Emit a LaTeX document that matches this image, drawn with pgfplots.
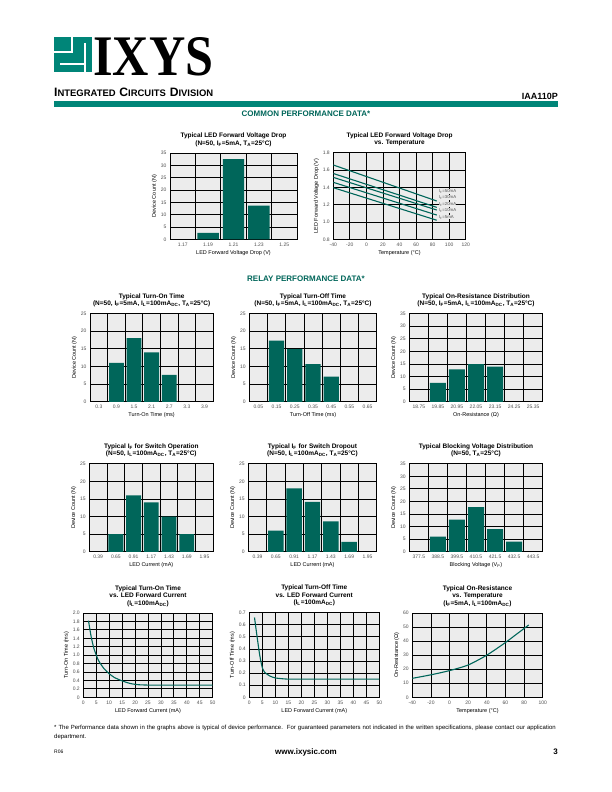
\documentclass[border=0pt]{standalone}
\usepackage{fontspec}
\setmainfont{Liberation Sans}
\newfontfamily\lserif{Liberation Serif}
\usepackage{graphicx}
\usepackage{pgfplots}
\pgfplotsset{compat=1.18}
\definecolor{barc}{RGB}{0,102,90}
\definecolor{hteal}{RGB}{0,133,120}
\definecolor{bgc}{RGB}{236,236,236}
\definecolor{tickc}{RGB}{80,80,80}
\pgfplotsset{
  dsbase/.style={
    scale only axis,
    anchor=north west,
    axis background/.style={fill=bgc},
    axis line style={black, line width=0.9pt},
    major tick length=0pt, minor tick length=0pt,
    tick style={draw=none},
    ticklabel style={font=\fontsize{5}{6}\selectfont, text=tickc},
    label style={font=\fontsize{5.5}{6.5}\selectfont},
    xlabel style={yshift=3pt},
    ylabel style={yshift=-3pt},
    title style={font=\bfseries\fontsize{6.5}{7.5}\selectfont, align=center, yshift=-3pt},
    grid style={black, line width=0.8pt},
    /pgf/number format/assume math mode=true,
  },
  hist/.style={dsbase, ybar, bar width=0.84, ymin=0,
     xminorgrids, ymajorgrids, xmajorgrids=false,
     ylabel={Device Count (N)}},
  seven/.style={xmin=-0.5, xmax=6.5, xtick={0,1,2,3,4,5,6}, minor xtick={0.5,1.5,2.5,3.5,4.5,5.5}},
  curve/.style={barc, line width=1.1pt, smooth, tension=0.4},
}
\newcommand{\cond}{(N=50, I\textsubscript{F}=5mA, I\textsubscript{L}=100mA\textsubscript{DC}, T\textsubscript{A}=25°C)}
\begin{document}
\begin{tikzpicture}[x=1pt,y=1pt]
\useasboundingbox (0,0) rectangle (612,792);
\fill[white] (0,0) rectangle (612,792);
% ---------- header ----------
\fill[hteal] (54,720) rectangle (92,755);
\fill[white] (54,739) rectangle (73,741);
\fill[white] (71,741) rectangle (73,755);
\fill[white] (60,727) rectangle (84,729);
\fill[white] (84,720) rectangle (86,749);
\node[anchor=north west, inner sep=0pt] at (93,755) {\resizebox{120pt}{38pt}{\lserif\bfseries IXYS}};
\node[anchor=west, inner sep=0pt] at (54,699.5) {\resizebox{159pt}{!}{\bfseries{\fontsize{9}{9}\selectfont I}{\fontsize{7}{7}\selectfont NTEGRATED} {\fontsize{9}{9}\selectfont C}{\fontsize{7}{7}\selectfont IRCUITS} {\fontsize{9}{9}\selectfont D}{\fontsize{7}{7}\selectfont IVISION}}};
\node[anchor=south east, inner sep=0pt, font=\bfseries\fontsize{9}{9}\selectfont] at (558,692.5) {IAA110P};
\fill[hteal] (54,684.5) rectangle (558,691);
\node[font=\bfseries\fontsize{8}{8}\selectfont, text=barc] at (306,678) {COMMON PERFORMANCE DATA*};
\node[font=\bfseries\fontsize{8}{8}\selectfont, text=barc] at (306,513) {RELAY PERFORMANCE DATA*};
% ---------- footer ----------
\node[anchor=north west, inner sep=0pt, text width=504pt, align=left, font=\fontsize{6}{9}\selectfont] at (54,67.5) {* The Performance data shown in the graphs above is typical of device performance.\ \ For guaranteed parameters not indicated in the written specifications, please contact our application department.};
\node[anchor=west, inner sep=0pt, font=\fontsize{5}{5}\selectfont] at (54,40) {R06};
\node[inner sep=0pt, font=\bfseries\fontsize{8}{8}\selectfont] at (306,40) {www.ixysic.com};
\node[anchor=east, inner sep=0pt, font=\bfseries\fontsize{8}{8}\selectfont] at (558,40) {3};

% ---------- chart 1 ----------
\begin{axis}[hist, at={(170pt,639pt)}, width=127pt, height=86.5pt,
  xmin=-0.5, xmax=4.5, ymax=35, ytick={0,5,10,15,20,25,30,35},
  xtick={0,1,2,3,4}, xticklabels={1.17,1.19,1.21,1.23,1.25},
  minor xtick={0.5,1.5,2.5,3.5},
  xlabel={LED Forward Voltage Drop (V)},
  title={Typical LED Forward Voltage Drop\\(N=50, I\textsubscript{F}=5mA, T\textsubscript{A}=25°C)}]
\addplot[fill=barc,draw=none] coordinates {(1,2.7) (2,32.5) (3,13.7)};
\end{axis}
% ---------- chart 2 ----------
\begin{axis}[dsbase, at={(333.3pt,639.3pt)}, width=132.4pt, height=86.6pt,
  xmin=-40, xmax=120, ymin=0.8, ymax=1.8,
  xtick={-40,-20,0,20,40,60,80,100,120},
  ytick={0.8,1.0,1.2,1.4,1.6,1.8}, yticklabels={0.8,1.0,1.2,1.4,1.6,1.8},
  grid=major,
  xlabel={Temperature (°C)}, ylabel={LED Forward Voltage Drop (V)},
  title={Typical LED Forward Voltage Drop\\vs. Temperature}]
\addplot[barc, line width=1.1pt] coordinates {(-40,1.658) (85,1.242)};
\addplot[barc, line width=1.1pt] coordinates {(-40,1.56) (85,1.169)};
\addplot[barc, line width=1.1pt] coordinates {(-40,1.515) (85,1.138)};
\addplot[barc, line width=1.1pt] coordinates {(-40,1.458) (85,1.08)};
\addplot[barc, line width=1.1pt] coordinates {(-40,1.396) (85,1.02)};
\begin{scope}[every node/.style={anchor=west, inner sep=0.3pt, fill=bgc, text=tickc, font=\fontsize{4.3}{4.3}\selectfont}]
\node at (axis cs:87,1.355) {I\textsubscript{F}=50mA};
\node at (axis cs:87,1.28) {I\textsubscript{F}=30mA};
\node at (axis cs:87,1.205) {I\textsubscript{F}=20mA};
\node at (axis cs:87,1.13) {I\textsubscript{F}=10mA};
\node at (axis cs:87,1.055) {I\textsubscript{F}=5mA};
\end{scope}
\end{axis}
% ---------- row 2 ----------
\begin{axis}[hist, seven, at={(90pt,478.5pt)}, width=123.3pt, height=88.3pt,
  ymax=25, ytick={0,5,10,15,20,25},
  xticklabels={0.3,0.9,1.5,2.1,2.7,3.3,3.9},
  xlabel={Turn-On Time (ms)},
  title={Typical Turn-On Time\\\cond}]
\addplot[fill=barc,draw=none] coordinates {(1,11) (2,18) (3,14) (4,7.6)};
\end{axis}
\begin{axis}[hist, seven, at={(249.3pt,478.5pt)}, width=127.4pt, height=88.3pt,
  ymax=25, ytick={0,5,10,15,20,25},
  xticklabels={0.05,0.15,0.25,0.35,0.45,0.55,0.65},
  xlabel={Turn-Off Time (ms)},
  title={Typical Turn-Off Time\\\cond}]
\addplot[fill=barc,draw=none] coordinates {(1,17.3) (2,14.9) (3,10.7) (4,7.1)};
\end{axis}
\begin{axis}[hist, seven, at={(409.3pt,478.5pt)}, width=133.4pt, height=88.3pt,
  ymax=35, ytick={0,5,10,15,20,25,30,35},
  xticklabels={18.75,19.85,20.95,22.05,23.15,24.25,25.35},
  xlabel={On-Resistance (Ω)},
  title={Typical On-Resistance Distribution\\\cond}]
\addplot[fill=barc,draw=none] coordinates {(1,7.5) (2,12.9) (3,14.9) (4,13.9)};
\end{axis}
% ---------- row 3 ----------
\begin{axis}[hist, seven, at={(89.3pt,328.3pt)}, width=124pt, height=88.1pt,
  ymax=25, ytick={0,5,10,15,20,25},
  xticklabels={0.39,0.65,0.91,1.17,1.43,1.69,1.95},
  xlabel={LED Current (mA)},
  title={Typical I\textsubscript{F} for Switch Operation\\(N=50, I\textsubscript{L}=100mA\textsubscript{DC}, T\textsubscript{A}=25°C)}]
\addplot[fill=barc,draw=none] coordinates {(1,5) (2,16) (3,14) (4,10) (5,5)};
\end{axis}
\begin{axis}[hist, seven, at={(248.3pt,328.3pt)}, width=128.4pt, height=88.1pt,
  ymax=25, ytick={0,5,10,15,20,25},
  xticklabels={0.39,0.65,0.91,1.17,1.43,1.69,1.95},
  xlabel={LED Current (mA)},
  title={Typical I\textsubscript{F} for Switch Dropout\\(N=50, I\textsubscript{L}=100mA\textsubscript{DC}, T\textsubscript{A}=25°C)}]
\addplot[fill=barc,draw=none] coordinates {(1,6) (2,18) (3,14.2) (4,8.6) (5,2.8)};
\end{axis}
\begin{axis}[hist, seven, at={(409.3pt,328.3pt)}, width=133.4pt, height=88.1pt,
  ymax=35, ytick={0,5,10,15,20,25,30,35},
  xticklabels={377.5,388.5,399.5,410.5,421.5,432.5,443.5},
  xlabel={Blocking Voltage (V\textsubscript{P})},
  title={Typical Blocking Voltage Distribution\\(N=50, T\textsubscript{A}=25°C)}]
\addplot[fill=barc,draw=none] coordinates {(1,6) (2,12.8) (3,17.7) (4,9) (5,4)};
\end{axis}
% ---------- row 4 ----------
\begin{axis}[dsbase, at={(83.3pt,179pt)}, width=129.4pt, height=84.3pt,
  xmin=0, xmax=50, ymin=0, ymax=2,
  xtick={0,5,10,15,20,25,30,35,40,45,50},
  ytick={0,0.2,0.4,0.6,0.8,1.0,1.2,1.4,1.6,1.8,2.0},
  yticklabels={0,0.2,0.4,0.6,0.8,1.0,1.2,1.4,1.6,1.8,2.0},
  grid=major,
  xlabel={LED Forward Current (mA)}, ylabel={Turn-On Time (ms)},
  title={Typical Turn-On Time\\vs. LED Forward Current\\(I\textsubscript{L}=100mA\textsubscript{DC})}]
\addplot[curve] coordinates {(2,1.82) (3,1.45) (4,1.18) (5,1.0) (6,0.86) (8,0.68) (10,0.56) (12,0.47) (15,0.39) (18,0.33) (21,0.3) (25,0.29) (30,0.29) (40,0.29) (50,0.29)};
\end{axis}
\begin{axis}[dsbase, at={(249.3pt,179.3pt)}, width=130pt, height=84.6pt,
  xmin=0, xmax=50, ymin=0, ymax=0.7,
  xtick={0,5,10,15,20,25,30,35,40,45,50},
  ytick={0,0.1,0.2,0.3,0.4,0.5,0.6,0.7},
  yticklabels={0,0.1,0.2,0.3,0.4,0.5,0.6,0.7},
  grid=major,
  xlabel={LED Forward Current (mA)}, ylabel={Turn-Off Time (ms)},
  title={Typical Turn-Off Time\\vs. LED Forward Current\\(I\textsubscript{L}=100mA\textsubscript{DC})}]
\addplot[curve] coordinates {(2,0.66) (3,0.5) (4,0.35) (5,0.245) (6,0.205) (8,0.175) (10,0.16) (12,0.155) (15,0.15) (20,0.15) (30,0.15) (50,0.15)};
\end{axis}
\begin{axis}[dsbase, at={(412.3pt,179pt)}, width=130.4pt, height=84.3pt,
  xmin=-40, xmax=100, ymin=0, ymax=60,
  xtick={-40,-20,0,20,40,60,80,100},
  ytick={0,10,20,30,40,50,60},
  grid=major,
  xlabel={Temperature (°C)}, ylabel={On-Resistance (Ω)},
  title={Typical On-Resistance\\vs. Temperature\\(I\textsubscript{F}=5mA, I\textsubscript{L}=100mA\textsubscript{DC})}]
\addplot[curve] coordinates {(-40,13.5) (-20,16) (0,19) (20,23) (40,30) (60,39) (85,51.5)};
\end{axis}
\end{tikzpicture}
\end{document}
